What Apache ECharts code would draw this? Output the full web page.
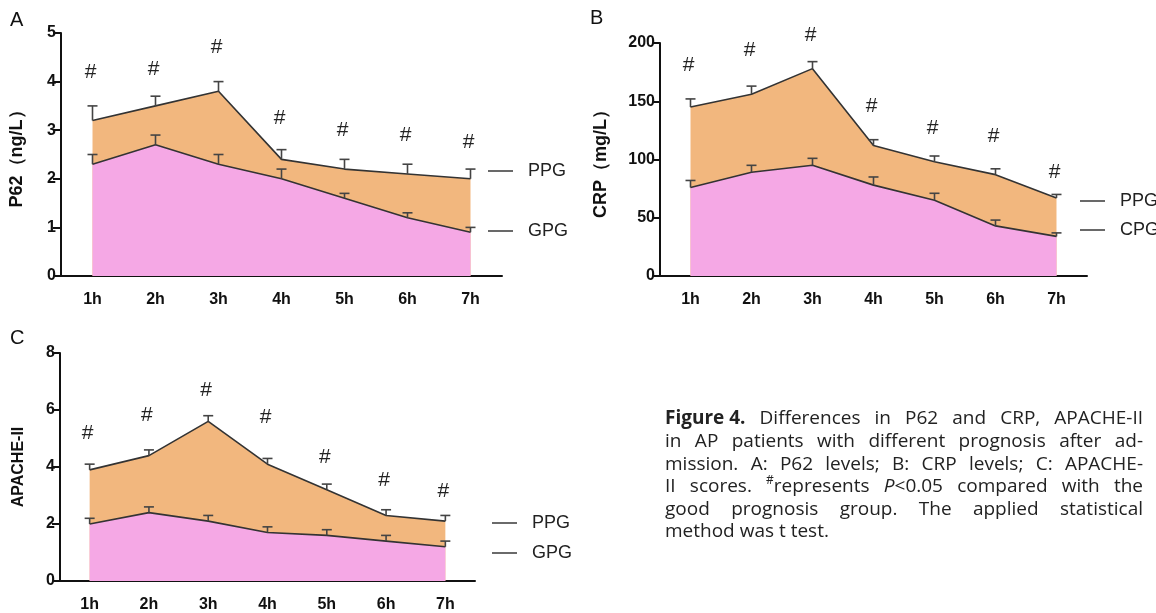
<!DOCTYPE html>
<html><head><meta charset="utf-8">
<script src="https://cdn.jsdelivr.net/npm/echarts@6/dist/echarts.min.js"></script>
<style>html,body{margin:0;padding:0;background:#fff}#c{width:1156px;height:613px}</style>
</head><body><div id="c"></div>
<script>
// ---------- data ----------
const categories = ['1h','2h','3h','4h','5h','6h','7h'];

// Panel A: P62 (ng/L)
const p62_PPG      = [3.2, 3.5, 3.8, 2.4, 2.2, 2.1, 2.0];
const p62_PPG_err  = [0.3, 0.2, 0.2, 0.2, 0.2, 0.2, 0.2];
const p62_GPG      = [2.3, 2.7, 2.3, 2.0, 1.6, 1.2, 0.9];
const p62_GPG_err  = [0.2, 0.2, 0.2, 0.2, 0.1, 0.1, 0.1];
const p62_hash     = [4.2, 4.25, 4.7, 3.25, 3.0, 2.9, 2.75];

// Panel B: CRP (mg/L)
const crp_PPG      = [145, 156, 178, 112, 98, 87, 67];
const crp_PPG_err  = [7, 7, 6, 5, 5, 5, 3];
const crp_CPG      = [76, 89, 95, 78, 65, 43, 34];
const crp_CPG_err  = [6, 6, 6, 7, 6, 5, 3];
const crp_hash     = [181, 194, 207, 146, 127, 120, 89];

// Panel C: APACHE-II
const apa_PPG      = [3.9, 4.4, 5.6, 4.1, 3.2, 2.3, 2.1];
const apa_PPG_err  = [0.2, 0.2, 0.2, 0.2, 0.2, 0.2, 0.2];
const apa_GPG      = [2.0, 2.4, 2.1, 1.7, 1.6, 1.4, 1.2];
const apa_GPG_err  = [0.2, 0.2, 0.2, 0.2, 0.2, 0.2, 0.2];
const apa_hash     = [5.2, 5.8, 6.7, 5.75, 4.35, 3.55, 3.15];

const captionLines = [
  [[{t:'Figure 4.',s:'b'}],[{t:'Differences'}],[{t:'in'}],[{t:'P62'}],[{t:'and'}],[{t:'CRP,'}],[{t:'APACHE-II'}]],
  'in AP patients with different prognosis after ad-',
  'mission. A: P62 levels; B: CRP levels; C: APACHE-',
  [[{t:'II'}],[{t:'scores.'}],[{t:'#',s:'sup'},{t:'represents'}],[{t:'P',s:'i'},{t:'<0.05'}],[{t:'compared'}],[{t:'with'}],[{t:'the'}]],
  'good prognosis group. The applied statistical',
  'method was t test.'
];

// ---------- helpers ----------
const AX = '#111', LINE = '#333', ORANGE = '#F2B77E', PINK = '#F5A8E5';
const FONT = '"Liberation Sans", Arial, sans-serif';
const CAPFAMILY = '"Open Sans", "Liberation Sans", sans-serif';

function makeAxes(gi, min, max, interval, name, nameGap, nameSize) {
  return {
    x: {type:'category', gridIndex:gi, data:categories, boundaryGap:true,
        axisLine:{lineStyle:{color:AX,width:2}},
        axisTick:{alignWithLabel:true,length:8,lineStyle:{color:AX,width:2}},
        axisLabel:{color:'#111',fontWeight:'bold',fontSize:16,fontFamily:FONT,margin:16}},
    y: {type:'value', gridIndex:gi, min:min, max:max, interval:interval,
        name:name, nameLocation:'middle', nameGap:nameGap, nameRotate:90,
        nameTextStyle:{color:'#111',fontWeight:'bold',fontSize:nameSize,fontFamily:FONT},
        axisLine:{show:true,lineStyle:{color:AX,width:2}},
        axisTick:{show:true,length:8,lineStyle:{color:AX,width:2}},
        axisLabel:{color:'#111',fontWeight:'bold',fontSize:16,fontFamily:FONT,margin:5},
        splitLine:{show:false}}
  };
}

function area(gi, vals, color, z) {
  return {type:'line', xAxisIndex:gi, yAxisIndex:gi, data:vals, symbol:'none',
    lineStyle:{color:LINE,width:1.6}, areaStyle:{color:color,opacity:1}, z:z, silent:true};
}

function errBars(gi, vals, errs) {
  return {type:'custom', xAxisIndex:gi, yAxisIndex:gi, z:10, silent:true,
    data: vals.map((v,i)=>[i, v, errs[i]]),
    renderItem:function(params, api){
      const p0 = api.coord([api.value(0), api.value(1)]);
      const p1 = api.coord([api.value(0), api.value(1)+api.value(2)]);
      const st = {stroke:'#444', lineWidth:1.6};
      return {type:'group', children:[
        {type:'line', shape:{x1:p0[0],y1:p0[1],x2:p1[0],y2:p1[1]}, style:st},
        {type:'line', shape:{x1:p1[0]-5,y1:p1[1],x2:p1[0]+5,y2:p1[1]}, style:st}
      ]};
    }};
}

function hashes(gi, vals) {
  return {type:'custom', xAxisIndex:gi, yAxisIndex:gi, z:11, silent:true,
    data: vals.map((v,i)=>[i, v]),
    renderItem:function(params, api){
      const p = api.coord([api.value(0), api.value(1)]);
      return {type:'text', x:p[0]-2, y:p[1], style:{text:'#', fill:'#222',
        font:'21px '+FONT, align:'center', verticalAlign:'middle'}};
    }};
}

const A = makeAxes(0, 0, 5, 1, 'P62（ng/L）', 35, 18);
const B = makeAxes(1, 0, 200, 50, 'CRP（mg/L）', 50, 18);
const C = makeAxes(2, 0, 8, 2, 'APACHE-II', 33, 16);

// ---------- legends / labels as graphics ----------
const graphics = [];
function legendItem(x, y, label) {
  graphics.push({type:'line', shape:{x1:x,y1:y,x2:x+25,y2:y}, style:{stroke:'#444',lineWidth:1.6}});
  graphics.push({type:'text', x:x+40, y:y, style:{text:label, fill:'#222', font:'18px '+FONT, verticalAlign:'middle'}});
}
legendItem(488, 171, 'PPG'); legendItem(488, 231, 'GPG');
legendItem(1080, 201, 'PPG'); legendItem(1080, 230, 'CPG');
legendItem(492, 523, 'PPG'); legendItem(492, 553, 'GPG');
[['A',10,20],['B',590,18],['C',10,338]].forEach(([t,x,y])=>{
  graphics.push({type:'text', x:x, y:y, style:{text:t, fill:'#111', font:'20px '+FONT, verticalAlign:'middle'}});
});

// caption (justified)
const CAP_X = 665, CAP_W = 478, CAP_Y0 = 419, CAP_LH = 22.6, CAP_FS = 19;
const capFont = CAP_FS+'px '+CAPFAMILY;
const cv = document.createElement('canvas').getContext('2d');
function fontFor(s){
  if (s==='b') return 'bold '+capFont;
  if (s==='i') return 'italic '+capFont;
  if (s==='sup') return '12px '+CAPFAMILY;
  return capFont;
}
function w(t,s){ cv.font = fontFor(s); return cv.measureText(t).width; }
captionLines.forEach((line, li)=>{
  const words = typeof line==='string' ? line.split(' ').map(t=>[{t:t}]) : line;
  const ww = words.map(runs=>runs.reduce((a,r)=>a+w(r.t,r.s),0));
  const total = ww.reduce((a,b)=>a+b,0);
  const last = li===captionLines.length-1;
  const gap = last ? w(' ') : (CAP_W-total)/(words.length-1);
  let x = CAP_X; const y = CAP_Y0 + li*CAP_LH;
  words.forEach((runs,wi)=>{
    let rx = x;
    runs.forEach(r=>{
      graphics.push({type:'text', x:rx, y: r.s==='sup' ? y-6 : y,
        style:{text:r.t, fill:'#222', font:fontFor(r.s), verticalAlign:'middle'}});
      rx += w(r.t,r.s);
    });
    x += ww[wi] + gap;
  });
});

const chart = echarts.init(document.getElementById('c'), null, {renderer:'canvas'});
chart.setOption({
  animation:false,
  backgroundColor:'#fff',
  grid:[
    {left:61, right:1156-502, top:33, bottom:613-276},
    {left:660, right:1156-1087, top:43, bottom:613-276},
    {left:60, right:1156-475, top:353, bottom:613-582}
  ],
  xAxis:[A.x, B.x, C.x],
  yAxis:[A.y, B.y, C.y],
  series:[
    area(0, p62_PPG, ORANGE, 2), area(0, p62_GPG, PINK, 3),
    errBars(0, p62_PPG, p62_PPG_err), errBars(0, p62_GPG, p62_GPG_err), hashes(0, p62_hash),
    area(1, crp_PPG, ORANGE, 2), area(1, crp_CPG, PINK, 3),
    errBars(1, crp_PPG, crp_PPG_err), errBars(1, crp_CPG, crp_CPG_err), hashes(1, crp_hash),
    area(2, apa_PPG, ORANGE, 2), area(2, apa_GPG, PINK, 3),
    errBars(2, apa_PPG, apa_PPG_err), errBars(2, apa_GPG, apa_GPG_err), hashes(2, apa_hash)
  ],
  graphic: graphics
});
</script></body></html>
